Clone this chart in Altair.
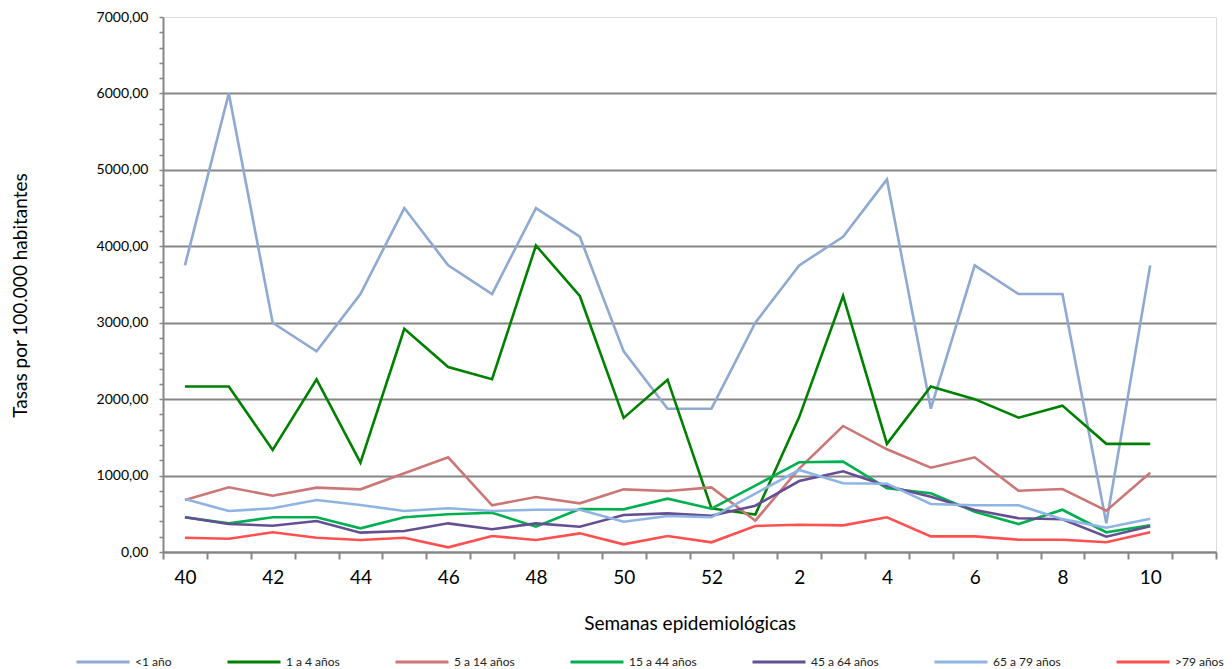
import altair as alt
import pandas as pd

# Week categories (24 bands on the axis, the last one has no data)
weeks = ["40", "41", "42", "43", "44", "45", "46", "47", "48", "49", "50", "51", "52",
         "1", "2", "3", "4", "5", "6", "7", "8", "9", "10", "11"]

series_names = ["<1 año", "1 a 4 años", "5 a 14 años", "15 a 44 años",
                "45 a 64 años", "65 a 79 años", ">79 años"]
series_colors = ["#8EA9D2", "#008000", "#CC7777", "#00B050",
                 "#664E93", "#8DB4E2", "#FF5050"]

menor1 = [3750, 6000, 3000, 2625, 3375, 4500, 3750, 3375, 4500, 4125, 2625, 1875, 1875,
          3000, 3750, 4125, 4875, 1875, 3750, 3375, 3375, 375, 3750]
de1a4 = [2165, 2165, 1335, 2260, 1170, 2920, 2420, 2260, 4010, 3350, 1755, 2255, 570,
         490, 1765, 3350, 1415, 2165, 2000, 1758, 1915, 1415, 1415]
de5a14 = [680, 846, 737, 842, 820, 1030, 1239, 611, 720, 637, 820, 798, 846,
          410, 1090, 1649, 1344, 1103, 1239, 802, 824, 541, 1038]
de15a44 = [454, 375, 454, 454, 310, 454, 493, 514, 331, 563, 558, 698, 567,
           868, 1174, 1182, 833, 768, 528, 366, 553, 258, 349]
de45a64 = [454, 366, 344, 405, 253, 275, 375, 297, 375, 331, 484, 506, 475,
           606, 929, 1056, 864, 724, 550, 441, 428, 200, 336]
de65a79 = [693, 536, 572, 680, 615, 536, 572, 536, 553, 553, 396, 471, 454,
           765, 1073, 899, 894, 628, 611, 611, 430, 318, 436]
mayor79 = [187, 174, 258, 187, 157, 187, 61, 209, 157, 244, 100, 209, 127,
           340, 357, 349, 454, 205, 205, 161, 161, 127, 258]

all_series = [menor1, de1a4, de5a14, de15a44, de45a64, de65a79, mayor79]

rows = []
for name, vals in zip(series_names, all_series):
    for i, v in enumerate(vals):
        rows.append({"semana": weeks[i], "idx": i, "serie": name, "tasa": v})
df = pd.DataFrame(rows)

FONT = "Lato"
GRAY = "#868686"

y_ticks = list(range(0, 7001, 200))

chart = alt.Chart(df).mark_line(strokeWidth=2.6).encode(
    x=alt.X(
        "semana:N",
        sort=weeks,
        scale=alt.Scale(domain=weeks, type="band", paddingInner=0, paddingOuter=0),
        axis=alt.Axis(
            title="Semanas epidemiológicas",
            labelAngle=0,
            tickBand="extent",
            labelExpr="toNumber(datum.value) % 2 === 0 ? datum.value : ''",
            labelFont=FONT, labelFontSize=19, labelColor="#000000",
            labelPadding=9,
            tickSize=7, tickColor=GRAY, tickWidth=2,
            domainColor=GRAY, domainWidth=2,
            grid=False,
            titleFont=FONT, titleFontSize=19, titleFontWeight="normal",
            titleColor="#000000", titleBaseline="alphabetic", titleY=77,
        ),
    ),
    y=alt.Y(
        "tasa:Q",
        scale=alt.Scale(domain=[0, 7000], nice=False),
        axis=alt.Axis(
            title="Tasas por 100.000 habitantes",
            values=y_ticks,
            labelExpr="datum.value % 1000 === 0 ? replace(format(datum.value, '.2f'), '.', ',') : ''",
            labelOverlap=False,
            labelFont=FONT, labelFontSize=14, labelColor="#000000",
            labelPadding=11,
            tickSize=4, tickColor=GRAY, tickWidth=1.5,
            domainColor=GRAY, domainWidth=2,
            grid=True,
            gridColor=GRAY, gridWidth=2,
            gridOpacity={"condition": {"test": "datum.value % 1000 === 0 && datum.value < 7000", "value": 1}, "value": 0},
            titleFont=FONT, titleFontSize=19, titleFontWeight="normal",
            titleColor="#000000", titleBaseline="alphabetic",
            titleAngle=-90, titleX=-137, titleY=278, titleAlign="center",
        ),
    ),
    color=alt.Color(
        "serie:N",
        sort=series_names,
        scale=alt.Scale(domain=series_names, range=series_colors),
        legend=alt.Legend(
            title=None,
            orient="none",
            legendX=-88,
            legendY=617,
            direction="horizontal",
            columns=7,
            gridAlign="each",
            symbolType="stroke",
            symbolSize=2809,
            symbolStrokeWidth=3,
            labelFont=FONT, labelFontSize=12, labelColor="#222222",
            labelOffset=4,
            columnPadding=49,
        ),
    ),
    order=alt.Order("idx:Q"),
    detail="serie:N",
).properties(
    width=1053,
    height=535,
    autosize=alt.AutoSizeParams(type="none"),
    padding={"left": 155, "top": 9, "right": 8, "bottom": 117},
).configure_view(
    stroke="#8B78AF",
    strokeWidth=2,
).configure(background="white")

chart.save("out.html", embed_options={"renderer": "svg", "actions": False})
